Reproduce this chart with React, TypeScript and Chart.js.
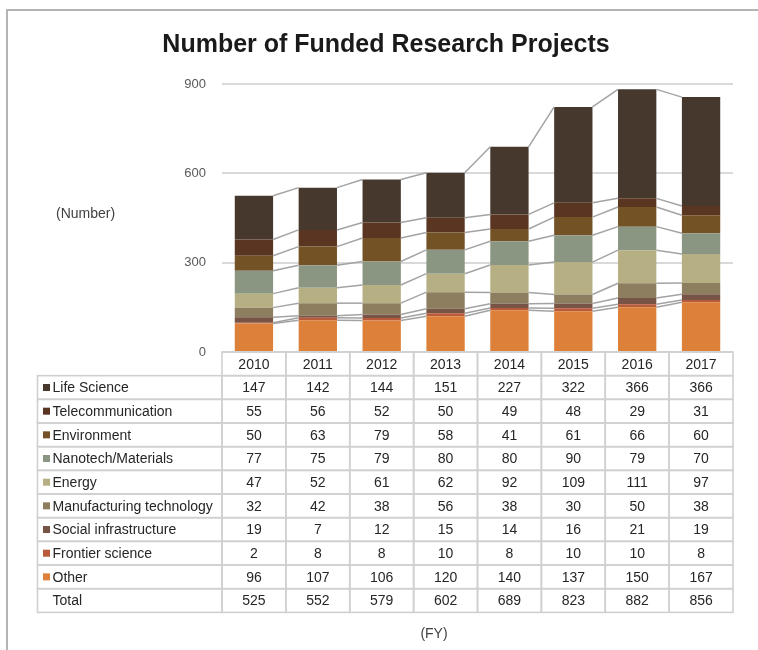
import React, { useEffect, useRef } from "react";
import { Chart, registerables } from "chart.js";

Chart.register(...registerables);

const years = ["2010", "2011", "2012", "2013", "2014", "2015", "2016", "2017"];
const lifeScience = [147, 142, 144, 151, 227, 322, 366, 366];
const telecommunication = [55, 56, 52, 50, 49, 48, 29, 31];
const environment = [50, 63, 79, 58, 41, 61, 66, 60];
const nanotech = [77, 75, 79, 80, 80, 90, 79, 70];
const energy = [47, 52, 61, 62, 92, 109, 111, 97];
const manufacturing = [32, 42, 38, 56, 38, 30, 50, 38];
const socialInfra = [19, 7, 12, 15, 14, 16, 21, 19];
const frontier = [2, 8, 8, 10, 8, 10, 10, 8];
const other = [96, 107, 106, 120, 140, 137, 150, 167];
const totals = [525, 552, 579, 602, 689, 823, 882, 856];
const yMax = 900;
const yStep = 300;

// bottom-to-top stack order
const series = [
  { label: "Other", data: other, color: "#dd813a" },
  { label: "Frontier science", data: frontier, color: "#b95a3a" },
  { label: "Social infrastructure", data: socialInfra, color: "#775446" },
  { label: "Manufacturing technology", data: manufacturing, color: "#8e7e60" },
  { label: "Energy", data: energy, color: "#b5af83" },
  { label: "Nanotech/Materials", data: nanotech, color: "#8b9682" },
  { label: "Environment", data: environment, color: "#735226" },
  { label: "Telecommunication", data: telecommunication, color: "#5a3622" },
  { label: "Life Science", data: lifeScience, color: "#47382d" },
];

const FONT = "'Liberation Sans', Arial, sans-serif";

const overlayPlugin = {
  id: "overlay",
  beforeDraw(chart: any) {
    const ctx = chart.ctx;
    ctx.save();
    ctx.fillStyle = "#ffffff";
    ctx.fillRect(0, 0, chart.width, chart.height);
    // frame
    ctx.strokeStyle = "#b4b4b4";
    ctx.lineWidth = 2;
    ctx.beginPath();
    ctx.moveTo(7, chart.height);
    ctx.lineTo(7, 10);
    ctx.lineTo(chart.width, 10);
    ctx.stroke();
    // title
    ctx.fillStyle = "#1a1a1a";
    ctx.font = `bold 25px ${FONT}`;
    ctx.textAlign = "center";
    ctx.textBaseline = "middle";
    ctx.fillText("Number of Funded Research Projects", 386, 45);
    // axis unit
    ctx.fillStyle = "#404040";
    ctx.font = `14px ${FONT}`;
    ctx.textAlign = "left";
    ctx.fillText("(Number)", 56, 214);
    ctx.restore();
  },
  afterDatasetsDraw(chart: any) {
    const ctx = chart.ctx;
    ctx.save();
    ctx.strokeStyle = "#a3a3a3";
    ctx.lineWidth = 1.5;
    for (let d = 0; d < series.length; d++) {
      const meta = chart.getDatasetMeta(d);
      for (let i = 0; i < meta.data.length - 1; i++) {
        const a = meta.data[i];
        const b = meta.data[i + 1];
        ctx.beginPath();
        ctx.moveTo(a.x + a.width / 2, a.y);
        ctx.lineTo(b.x - b.width / 2, b.y);
        ctx.stroke();
      }
    }
    ctx.restore();
  },
  afterDraw(chart: any) {
    const ctx = chart.ctx;
    const xs = chart.scales.x;
    const ys = chart.scales.y;
    const n = years.length;
    const catW = (xs.right - xs.left) / n;
    const colLeft = (i: number) => xs.getPixelForValue(i) - catW / 2;
    const top = ys.getPixelForValue(0);
    const rowH = 23.67;
    const tableLeft = 37.5;
    const rows = [...series].reverse();
    ctx.save();
    ctx.strokeStyle = "#d0d0d0";
    ctx.lineWidth = 1.6;
    // header cells
    for (let i = 0; i < n; i++) {
      ctx.strokeRect(colLeft(i), top, catW, rowH);
    }
    const totalRows = rows.length + 1;
    for (let r = 0; r < totalRows; r++) {
      const y0 = top + rowH * (r + 1);
      ctx.strokeRect(tableLeft, y0, colLeft(0) - tableLeft, rowH);
      for (let i = 0; i < n; i++) {
        ctx.strokeRect(colLeft(i), y0, catW, rowH);
      }
    }
    // header text
    ctx.fillStyle = "#262626";
    ctx.font = `14px ${FONT}`;
    ctx.textAlign = "center";
    ctx.textBaseline = "middle";
    for (let i = 0; i < n; i++) {
      ctx.fillText(years[i], xs.getPixelForValue(i), top + rowH / 2 + 1);
    }
    for (let r = 0; r < totalRows; r++) {
      const yc = top + rowH * (r + 1.5) + 1;
      const isTotal = r === rows.length;
      const label = isTotal ? "Total" : rows[r].label;
      const values = isTotal ? totals : rows[r].data;
      if (!isTotal) {
        ctx.fillStyle = rows[r].color;
        ctx.fillRect(43, yc - 4.5, 7, 7);
      }
      ctx.fillStyle = "#262626";
      ctx.textAlign = "left";
      ctx.fillText(label, 52.5, yc);
      ctx.textAlign = "center";
      for (let i = 0; i < n; i++) {
        ctx.fillText(String(values[i]), xs.getPixelForValue(i), yc);
      }
    }
    ctx.fillStyle = "#404040";
    ctx.font = `14px ${FONT}`;
    ctx.textAlign = "center";
    ctx.fillText("(FY)", 434, 634);
    ctx.restore();
  },
};

export default function App() {
  const ref = useRef<HTMLCanvasElement | null>(null);
  useEffect(() => {
    if (!ref.current) return;
    const chart = new Chart(ref.current, {
      type: "bar",
      data: {
        labels: years,
        datasets: series.map((s) => ({
          label: s.label,
          data: s.data,
          backgroundColor: s.color,
          borderWidth: 0,
          categoryPercentage: 1,
          barPercentage: 0.6,
        })),
      },
      options: {
        responsive: false,
        animation: false,
        layout: { padding: { top: 84, right: 25, bottom: 298, left: 0 } },
        plugins: {
          legend: { display: false },
          tooltip: { enabled: false },
          title: { display: false },
        },
        scales: {
          x: { stacked: true, display: false },
          y: {
            stacked: true,
            min: 0,
            max: yMax,
            afterFit: (scale: any) => {
              scale.width = 222;
            },
            ticks: {
              stepSize: yStep,
              padding: 16,
              color: "#595959",
              font: { family: FONT, size: 13 },
            },
            grid: { color: "#d9d9d9", lineWidth: 2, drawTicks: false },
            border: { display: false },
          },
        },
      },
      plugins: [overlayPlugin],
    });
    return () => chart.destroy();
  }, []);
  return (
    <div style={{ position: "absolute", left: 0, top: 0, width: 758, height: 650 }}>
      <canvas ref={ref} width={758} height={650} style={{ width: 758, height: 650 }} />
    </div>
  );
}
